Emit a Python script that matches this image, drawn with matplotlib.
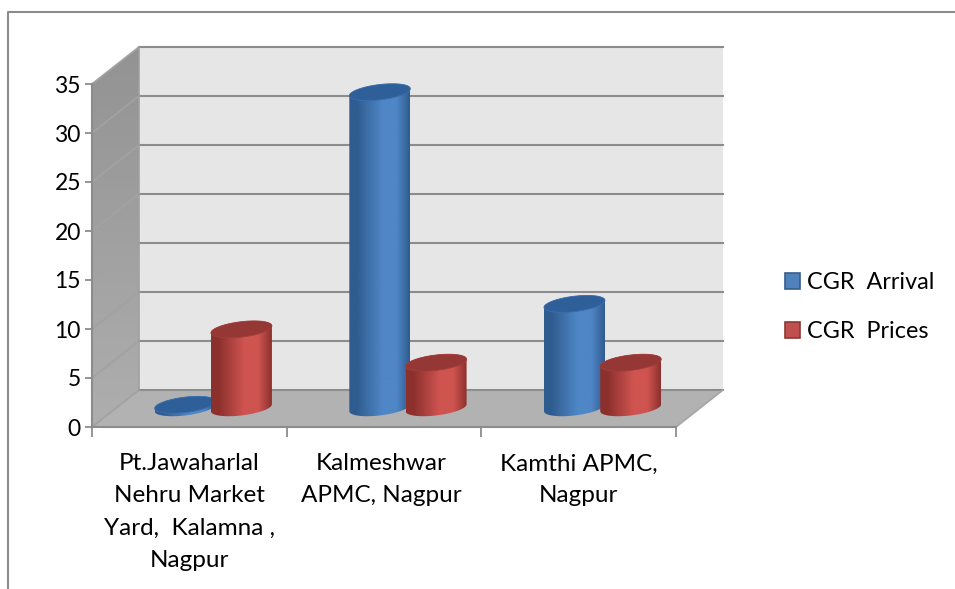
"""Cylinder chart of CGR arrival and prices at Nagpur markets, Excel 3D look."""

import numpy as np
import matplotlib
matplotlib.use("Agg")
import matplotlib.pyplot as plt
from matplotlib.colors import LinearSegmentedColormap
from matplotlib.lines import Line2D
from matplotlib.patches import Patch, PathPatch, Polygon
from matplotlib.path import Path

categories = [
    "Pt.Jawaharlal\nNehru Market\nYard,  Kalamna ,\nNagpur",
    "Kalmeshwar\nAPMC, Nagpur",
    "Kamthi APMC,\nNagpur",
]
cgr_arrival = [0.3, 32.2, 10.6]
cgr_prices = [8.0, 4.6, 4.6]
y_ticks = [0, 5, 10, 15, 20, 25, 30, 35]

W, H = 955, 589
plt.rcParams["font.family"] = ["Lato", "DejaVu Sans"]

fig = plt.figure(figsize=(W / 100, H / 100), dpi=100, facecolor="white")
ax = fig.add_axes([92 / W, (H - 427) / H, 584 / W, 343 / H])
ax.set_xlim(0, 3)
ax.set_ylim(0, 35)

# pixel sizes expressed in data units
PX = 3 / 584
PY = 35 / 343
DX, DY = 47 * PX, 37 * PY
GRID = "#8c8c8c"

# chart frame, only top and left are visible in the original
fig.add_artist(Line2D([8 / W, 8 / W, 1], [0, 1 - 12 / H, 1 - 12 / H], color=GRID, lw=1.5))

# walls and floor
ax.add_patch(Polygon([(0, 0), (DX, DY), (3 + DX, DY), (3, 0)], fc="#b2b2b2", ec="none", clip_on=False, zorder=1))
ax.add_patch(Polygon([(DX, DY), (DX, 35 + DY), (3 + DX, 35 + DY), (3 + DX, DY)], fc="#e6e6e6", ec="none", clip_on=False, zorder=1))
wall = Polygon([(0, 0), (0, 35), (DX, 35 + DY), (DX, DY)], fc="none", ec="none", clip_on=False)
ax.add_patch(wall)
wall_cmap = LinearSegmentedColormap.from_list("wall", ["#aeaeae", "#939393"])
wall_im = ax.imshow(np.linspace(0, 1, 64)[:, None], cmap=wall_cmap, aspect="auto", origin="lower",
                    extent=[0, DX, 0, 35 + DY], zorder=1)
wall_im.set_clip_box(fig.bbox)
wall_im.set_clip_path(wall)
for v in y_ticks:
    ax.plot([0, DX], [v, v + DY], color="#a2a2a2", lw=1.3, clip_on=False, zorder=2)
    ax.plot([DX, 3 + DX], [v + DY, v + DY], color=GRID, lw=1.5, clip_on=False, zorder=2)
ax.plot([DX, DX], [DY, 35 + DY], color="#a0a0a0", lw=1.2, clip_on=False, zorder=2)
ax.plot([3, 3 + DX], [0, DY], color="#a6a6a6", lw=1.2, clip_on=False, zorder=2)


def draw_cylinder(cx, value, edge, mid, top, top_edge):
    """Cylinder standing half way back on the floor, sides shaded with a gradient."""
    a, b, k = 30.5 * PX, 7.7 * PY, 3.5 * PY
    x0 = cx + 0.52 * DX
    y0 = 0.52 * DY
    t = np.linspace(0, 2 * np.pi, 120)
    ex = a * np.cos(t)
    ey = b * np.sin(t) + k * np.cos(t)

    # side: lower half of base ellipse, then lower half of the top ellipse going back
    low = np.linspace(np.pi, 2 * np.pi, 60)
    bx = x0 + a * np.cos(low)
    by = y0 + b * np.sin(low) + k * np.cos(low)
    high = np.linspace(0, np.pi, 60)
    tx = x0 + a * np.cos(high)
    ty = y0 + value + b * np.sin(high) + k * np.cos(high)
    side = np.column_stack([np.r_[bx, tx], np.r_[by, ty]])
    clip = PathPatch(Path(np.vstack([side, side[:1]]), closed=True), fc="none", ec="none",
                     transform=ax.transData)
    ax.add_patch(clip)
    cmap = LinearSegmentedColormap.from_list(
        "cyl", [(0, edge), (0.12, edge), (0.55, mid), (0.78, mid), (1, edge)])
    im = ax.imshow(np.linspace(0, 1, 128)[None, :], cmap=cmap, aspect="auto",
                   extent=[x0 - a, x0 + a, y0 - 2, y0 + value + 2], zorder=4, interpolation="bilinear")
    im.set_clip_path(clip)
    ax.add_patch(Polygon(np.column_stack([x0 + ex, y0 + value + ey]), fc=top, ec=top_edge, lw=0.6,
                         zorder=4, clip_on=False))


centers = np.arange(3) + 0.5
for i in range(3):
    draw_cylinder(centers[i] - 0.147, cgr_arrival[i], "#2f5c8f", "#4f86c6", "#2f5f98", "#3a6fae")
    draw_cylinder(centers[i] + 0.142, cgr_prices[i], "#8c302d", "#cf5450", "#943735", "#a33d3a")

ax.set_xlim(0, 3)
ax.set_ylim(0, 35)

# axes
for name in ("top", "right"):
    ax.spines[name].set_visible(False)
for name in ("left", "bottom"):
    ax.spines[name].set_color(GRID)
    ax.spines[name].set_linewidth(1.5)
    ax.spines[name].set_zorder(3)
ax.set_yticks(y_ticks)
ax.set_xticks([0, 1, 2, 3], labels=["", "", "", ""])
ax.tick_params(axis="y", length=5, width=1.3, color=GRID, labelsize=16.5, pad=3)
ax.tick_params(axis="x", length=7, width=1.3, color=GRID)
label_shift = [0, -2, 0]
for i, label in enumerate(categories):
    ax.annotate(label, xy=(centers[i], 0), xytext=(label_shift[i], -19), textcoords="offset points",
                ha="center", va="top", fontsize=17.5, linespacing=1.65, color="black")

handles = [Patch(fc="#4f81bd", ec="#385d8a", lw=1.2), Patch(fc="#c0504d", ec="#8c3836", lw=1.2)]
fig.legend(handles, ["CGR  Arrival", "CGR  Prices"], loc="upper left",
           bbox_to_anchor=(785 / W, 1 - 272 / H), frameon=False, fontsize=16.8,
           handlelength=0.66, handleheight=0.66, handletextpad=0.3, labelspacing=1.2,
           borderpad=0, borderaxespad=0)

fig.savefig("out.png", dpi=100, facecolor="white")
